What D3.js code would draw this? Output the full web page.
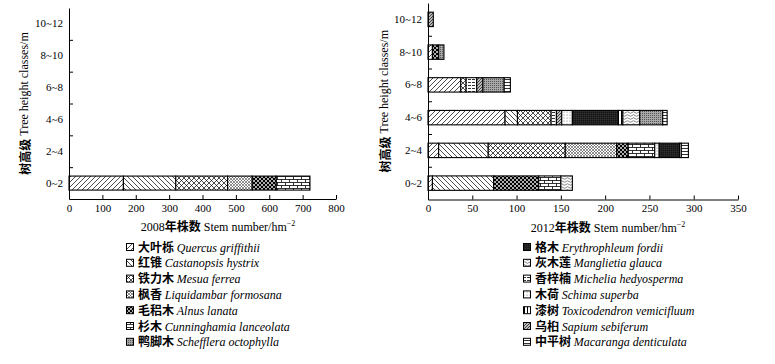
<!DOCTYPE html>
<html>
<head>
<meta charset="utf-8">
<script src="https://cdn.jsdelivr.net/npm/d3@7"></script>
<style>
  body { margin: 0; background: #fff; }
  svg text { font-family: "Liberation Serif", "Times New Roman", serif; fill: #000; }
  .cn { font-family: "Noto Sans CJK SC", sans-serif; font-weight: bold; }
  .axis path, .axis line { stroke: #000; stroke-width: 1; }
  .axis text { font-size: 11px; }
</style>
</head>
<body>
<svg id="chart" width="775" height="364"></svg>
<script>
/* ---------- data ---------- */
const heightClasses = ['0~2', '2~4', '4~6', '6~8', '8~10', '10~12'];

// legend order (left column 7, right column 7)
const speciesCn = ['大叶栎', '红锥', '铁力木', '枫香', '毛稆木', '杉木', '鸭脚木',
                   '格木', '灰木莲', '香梓楠', '木荷', '漆树', '乌桕', '中平树'];
const speciesLatin = ['Quercus griffithii', 'Castanopsis hystrix', 'Mesua ferrea',
  'Liquidambar formosana', 'Alnus lanata', 'Cunninghamia lanceolata', 'Schefflera octophylla',
  'Erythrophleum fordii', 'Manglietia glauca', 'Michelia hedyosperma', 'Schima superba',
  'Toxicodendron vemicifluum', 'Sapium sebiferum', 'Macaranga denticulata'];

// order of the segments inside a bar
const stackOrder = ['大叶栎', '红锥', '铁力木', '枫香', '毛稆木', '杉木', '香梓楠',
                    '乌桕', '木荷', '格木', '漆树', '灰木莲', '鸭脚木', '中平树'];

// stems per hm2, one row per height class, columns in speciesCn order
const stems2008 = [
  [163, 157, 155, 74, 72, 101, 0, 0, 0, 0, 0, 0, 0, 0],
  [0, 0, 0, 0, 0, 0, 0, 0, 0, 0, 0, 0, 0, 0],
  [0, 0, 0, 0, 0, 0, 0, 0, 0, 0, 0, 0, 0, 0],
  [0, 0, 0, 0, 0, 0, 0, 0, 0, 0, 0, 0, 0, 0],
  [0, 0, 0, 0, 0, 0, 0, 0, 0, 0, 0, 0, 0, 0],
  [0, 0, 0, 0, 0, 0, 0, 0, 0, 0, 0, 0, 0, 0]
];
const stems2012 = [
  [5, 69, 0, 0, 51, 25, 0, 0, 13, 0, 0, 0, 0, 0],
  [12, 56, 87, 58, 13, 30, 0, 23, 0, 0, 5, 2, 0, 8],
  [87, 14, 38, 0, 0, 0, 26, 52, 19, 6, 12, 5, 6, 5],
  [37, 0, 6, 0, 0, 0, 24, 0, 0, 12, 0, 0, 7, 7],
  [5, 0, 0, 0, 7, 0, 6, 0, 0, 0, 0, 0, 0, 0],
  [0, 0, 0, 0, 0, 0, 0, 0, 0, 0, 0, 0, 6, 0]
];

const ticks2008 = [0, 100, 200, 300, 400, 500, 600, 700, 800];
const ticks2012 = [0, 50, 100, 150, 200, 250, 300, 350];

/* ---------- fill patterns ---------- */
const PATTERN = {
  '大叶栎': 'p-fwd', '红锥': 'p-back', '铁力木': 'p-cross', '枫香': 'p-finecross',
  '毛稆木': 'p-checker', '杉木': 'p-brick', '鸭脚木': 'p-greydots', '格木': 'p-blackfine',
  '灰木莲': 'p-wave', '香梓楠': 'p-dash', '木荷': 'p-lightdots', '漆树': 'p-vline',
  '乌桕': 'p-densediag', '中平树': 'p-hline'
};

function addPatterns(defs) {
  function pat(id, w, h, bg) {
    const p = defs.append('pattern').attr('id', id)
      .attr('patternUnits', 'userSpaceOnUse').attr('width', w).attr('height', h);
    p.append('rect').attr('width', w).attr('height', h).attr('fill', bg || '#fff');
    return p;
  }
  const ln = (p, d, sw, c) => p.append('path').attr('d', d)
    .attr('stroke', c || '#000').attr('stroke-width', sw).attr('fill', 'none');

  ln(pat('p-fwd', 5, 5), 'M-1,1L1,-1M0,5L5,0M4,6L6,4', 0.7);
  ln(pat('p-back', 5, 5), 'M-1,4L1,6M0,0L5,5M4,-1L6,1', 0.7);
  ln(pat('p-cross', 5, 5), 'M0,0L5,5M5,0L0,5', 0.7);
  ln(pat('p-finecross', 3, 3), 'M0,0L3,3M3,0L0,3', 0.6, '#444');
  const ck = pat('p-checker', 4, 4, '#000');
  ck.append('circle').attr('cx', 1).attr('cy', 1).attr('r', 0.9).attr('fill', '#fff');
  ck.append('circle').attr('cx', 3).attr('cy', 3).attr('r', 0.9).attr('fill', '#fff');
  ln(pat('p-brick', 8, 6), 'M0,0.5H8M0,3.5H8M0.5,0.5V3.5M4.5,3.5V6.5', 0.8);
  const gd = pat('p-greydots', 2, 2, '#a8a8a8');
  gd.append('rect').attr('width', 1).attr('height', 1).attr('fill', '#555');
  const bf = pat('p-blackfine', 2, 2, '#111');
  bf.append('rect').attr('x', 0.5).attr('y', 0.5).attr('width', 0.7).attr('height', 0.7).attr('fill', '#999');
  ln(pat('p-wave', 6, 3), 'M0,1.5Q1.5,0 3,1.5T6,1.5', 0.6, '#333');
  ln(pat('p-dash', 4, 3), 'M0,1.5H3', 0.8);
  const ld = pat('p-lightdots', 3, 3);
  ld.append('circle').attr('cx', 1).attr('cy', 1).attr('r', 0.6).attr('fill', '#777');
  ln(pat('p-vline', 3, 3), 'M1.5,0V3', 1);
  ln(pat('p-densediag', 3, 3, '#bbb'), 'M-1,1L1,-1M0,3L3,0M2,4L4,2', 0.8, '#222');
  ln(pat('p-hline', 3, 3), 'M0,1.5H3', 0.8);
}

/* ---------- one panel ---------- */
function drawPanel(svg, cfg) {
  const { left, top, W, H, xMax, ticks, rows, year, titleX, yTitleX } = cfg;
  const g = svg.append('g').attr('transform', `translate(${left},${top})`);

  const x = d3.scaleLinear().domain([0, xMax]).range([0, W]);
  const yBand = d3.scaleBand().domain(heightClasses).range([H, 0])
    .paddingInner(0.56).paddingOuter(0.28);
  const yLin = d3.scaleLinear().domain([0, heightClasses.length]).range([H, 0]);

  const data = heightClasses.map((hc, i) => {
    const obj = { cls: hc };
    speciesCn.forEach((s, j) => { obj[s] = rows[i][j]; });
    return obj;
  });
  const stack = d3.stack().keys(stackOrder)(data);

  stack.forEach(layer => {
    g.selectAll(null)
      .data(layer.filter(d => d[1] - d[0] > 0))
      .enter().append('rect')
        .attr('x', d => x(d[0]))
        .attr('y', d => yBand(d.data.cls))
        .attr('width', d => x(d[1]) - x(d[0]))
        .attr('height', yBand.bandwidth())
        .attr('fill', `url(#${PATTERN[layer.key]})`)
        .attr('stroke', '#000')
        .attr('stroke-width', 1.1);
  });

  // x axis, ticks pointing inward
  g.append('g').attr('class', 'axis')
    .attr('transform', `translate(0,${H})`)
    .call(d3.axisBottom(x).tickValues(ticks).tickFormat(d3.format('d'))
      .tickSizeInner(-4).tickSizeOuter(0).tickPadding(5));

  // y axis: ticks at class boundaries, labels at class centres
  g.append('g').attr('class', 'axis')
    .call(d3.axisLeft(yLin).tickValues([1, 2, 3, 4, 5]).tickFormat('')
      .tickSizeInner(-4).tickSizeOuter(0));
  const yl = g.append('g').attr('class', 'axis')
    .call(d3.axisLeft(yBand).tickSize(0).tickPadding(6));
  yl.select('.domain').remove();

  // x title
  const xt = g.append('text')
    .attr('x', titleX).attr('y', H + 32)
    .attr('text-anchor', 'middle').attr('font-size', 12);
  xt.append('tspan').text(year);
  xt.append('tspan').attr('class', 'cn').attr('font-size', 12).text('年株数');
  xt.append('tspan').text(' Stem number/hm');
  xt.append('tspan').attr('font-size', 8).attr('dy', -5).text('−2');

  // y title
  const yt = g.append('text')
    .attr('transform', `translate(${yTitleX},${H / 2}) rotate(-90)`)
    .attr('text-anchor', 'middle').attr('dominant-baseline', 'central')
    .attr('font-size', 12);
  yt.append('tspan').attr('class', 'cn').text('树高级');
  yt.append('tspan').text(' Tree height classes/m');
}

/* ---------- legend ---------- */
function drawLegend(svg, x0, names) {
  const g = svg.append('g').attr('transform', `translate(${x0},0)`);
  names.forEach((s, i) => {
    const j = speciesCn.indexOf(s);
    const cy = 247 + i * 15.8;
    g.append('rect')
      .attr('x', 0.5).attr('y', cy - 3.5).attr('width', 7).attr('height', 7)
      .attr('fill', `url(#${PATTERN[s]})`).attr('stroke', '#000').attr('stroke-width', 1);
    const t = g.append('text').attr('x', 12).attr('y', cy + 4.5).attr('font-size', 12);
    t.append('tspan').attr('class', 'cn').text(s + ' ');
    t.append('tspan').attr('font-style', 'italic').text(speciesLatin[j]);
  });
}

const svg = d3.select('#chart');
addPatterns(svg.append('defs'));

drawPanel(svg, {
  left: 69, top: 8, W: 267, H: 191, xMax: 800, ticks: ticks2008,
  rows: stems2008, year: '2008', titleX: 149, yTitleX: -45
});
drawPanel(svg, {
  left: 428, top: 3, W: 310, H: 196.5, xMax: 350, ticks: ticks2012,
  rows: stems2012, year: '2012', titleX: 180, yTitleX: -44
});

drawLegend(svg, 126, speciesCn.slice(0, 7));
drawLegend(svg, 523, speciesCn.slice(7));
</script>
</body>
</html>
